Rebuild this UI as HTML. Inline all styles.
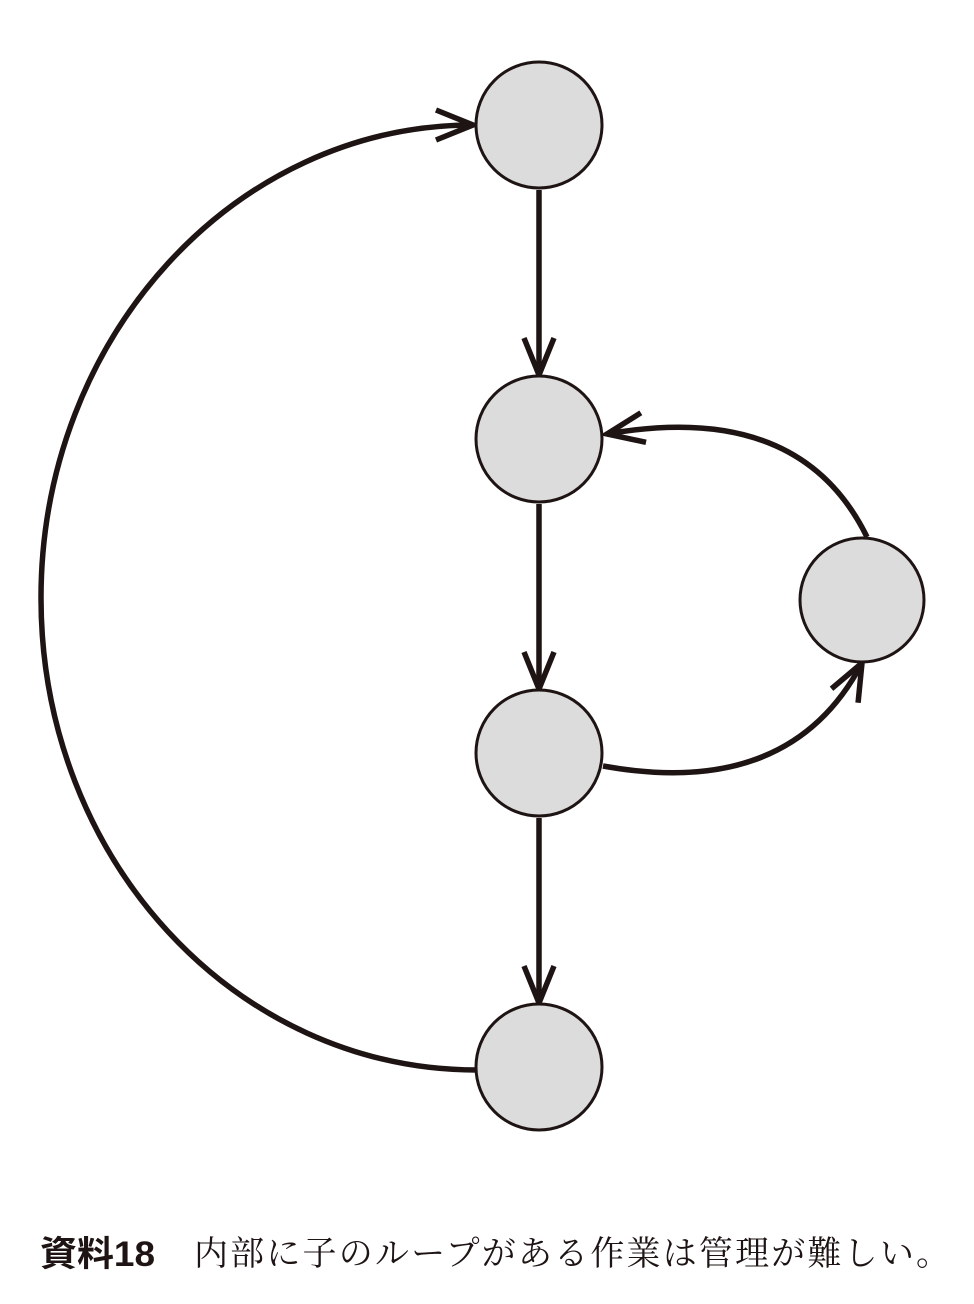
<!DOCTYPE html>
<html><head><meta charset="utf-8"><style>
html,body{margin:0;padding:0;background:#fff;}
svg{display:block;}
</style></head><body>
<svg width="974" height="1304" viewBox="0 0 974 1304" xmlns="http://www.w3.org/2000/svg">
<defs>
<marker id="a" markerUnits="userSpaceOnUse" viewBox="-40 -20 44 40" markerWidth="44" markerHeight="40" refX="0" refY="0" orient="auto">
<path d="M-37 -15 L0 0 L-37 15" fill="none" stroke="#1e1414" stroke-width="5.5"/>
</marker>
</defs>
<g fill="none" stroke="#1e1414" stroke-width="5.5">
<line x1="539" y1="190" x2="539" y2="375" marker-end="url(#a)"/>
<line x1="539" y1="504" x2="539" y2="689" marker-end="url(#a)"/>
<line x1="539" y1="818" x2="539" y2="1003" marker-end="url(#a)"/>
<path d="M477 1070 C235 1070 41 859 41 598 C41 337 235 125 473 125" marker-end="url(#a)"/>
<path d="M603 766 Q790 800 862 663" marker-end="url(#a)"/>
<path d="M867 537 Q800 400 607 434" marker-end="url(#a)"/>
</g>
<g fill="#dcdcdc" stroke="#1e1414" stroke-width="3">
<circle cx="539" cy="125" r="63"/>
<circle cx="539" cy="439" r="63"/>
<circle cx="539" cy="753" r="63"/>
<circle cx="539" cy="1067" r="63"/>
<circle cx="862" cy="600" r="62"/>
</g>
<text x="40" y="1266" font-family="'Liberation Sans','Noto Sans CJK JP',sans-serif" font-weight="bold" font-size="35" fill="#1e1414" textLength="115" lengthAdjust="spacingAndGlyphs">資料18</text>
<text x="194" y="1265" font-family="'Liberation Serif','Noto Serif CJK SC',serif" font-size="34" fill="#1e1414" textLength="756" lengthAdjust="spacing">内部に子のループがある作業は管理が難しい。</text>
</svg>
</body></html>
